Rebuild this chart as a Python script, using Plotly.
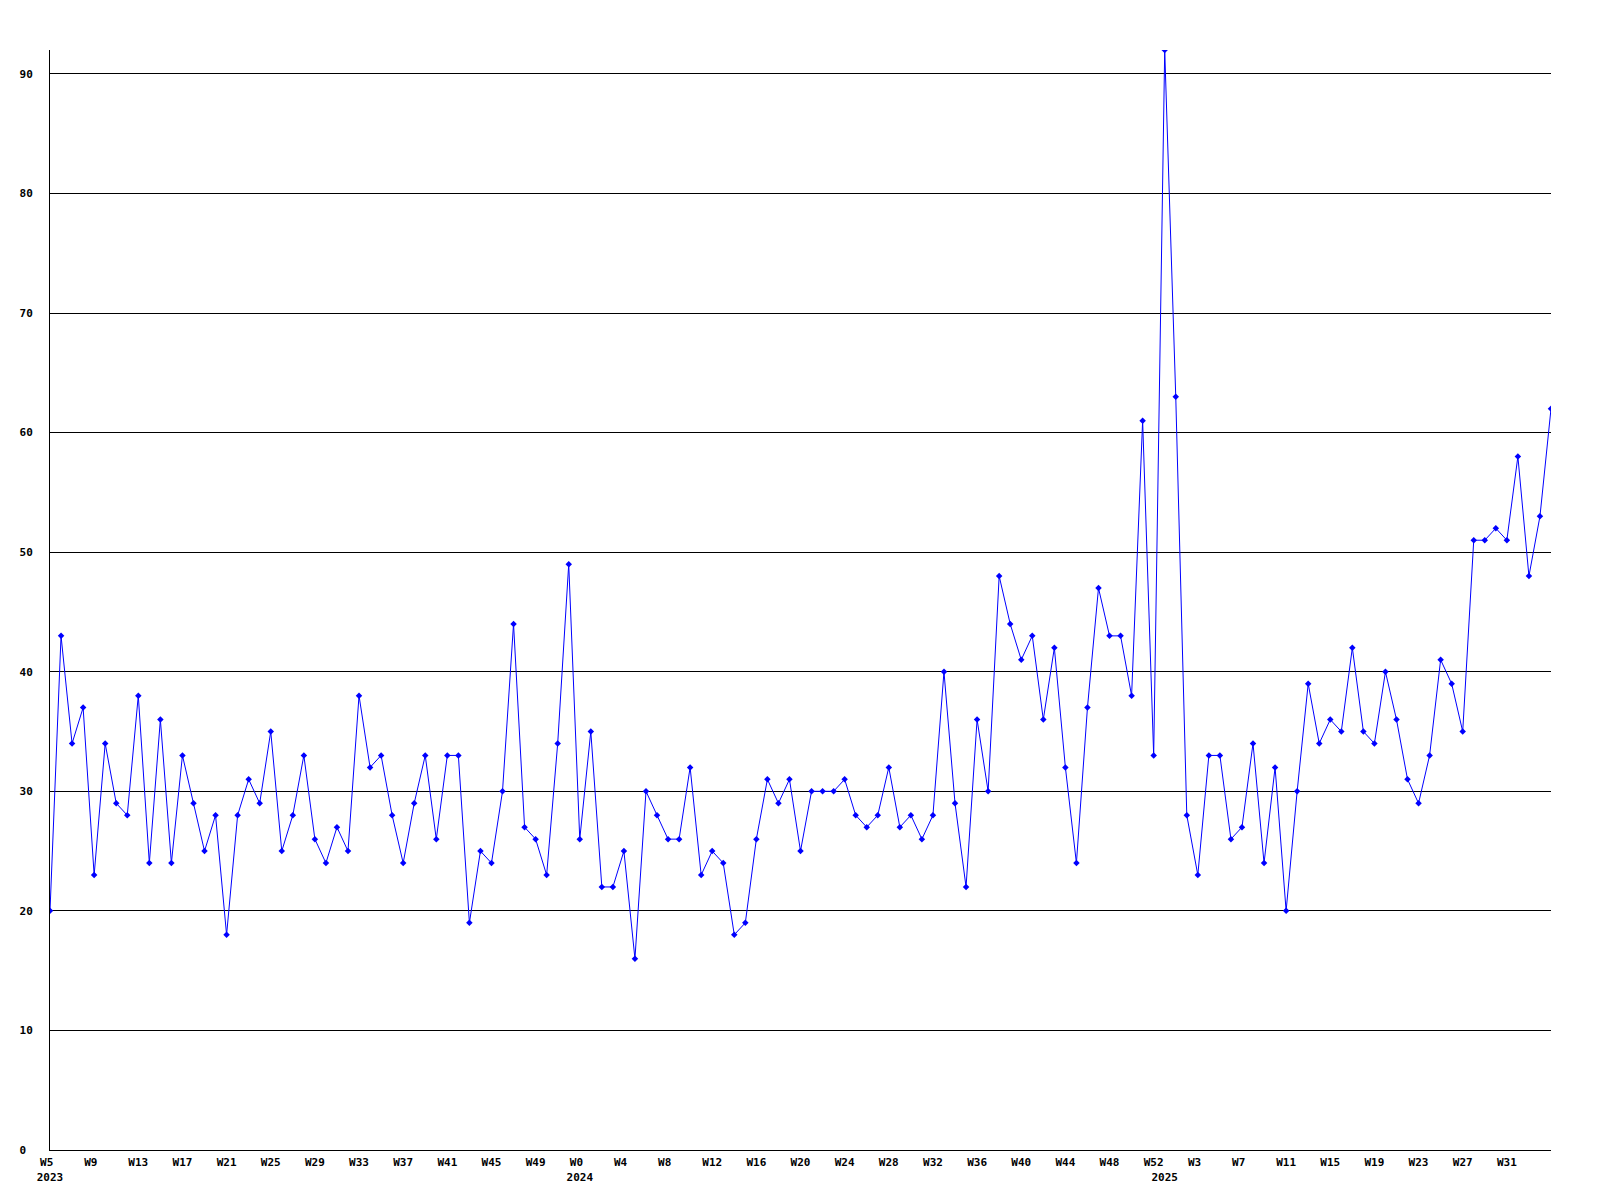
import plotly.graph_objects as go

# ---- data -------------------------------------------------------------
years = [2023, 2024, 2025]
weeks_2023 = list(range(5, 53))
weeks_2024 = list(range(0, 53))
weeks_2025 = list(range(0, 36))

values_2023 = [20, 43, 34, 37, 23, 34, 29, 28, 38, 24,
               36, 24, 33, 29, 25, 28, 18, 28, 31, 29,
               35, 25, 28, 33, 26, 24, 27, 25, 38, 32,
               33, 28, 24, 29, 33, 26, 33, 33, 19, 25,
               24, 30, 44, 27, 26, 23, 34, 49]
values_2024 = [26, 35, 22, 22, 25, 16, 30, 28, 26, 26,
               32, 23, 25, 24, 18, 19, 26, 31, 29, 31,
               25, 30, 30, 30, 31, 28, 27, 28, 32, 27,
               28, 26, 28, 40, 29, 22, 36, 30, 48, 44,
               41, 43, 36, 42, 32, 24, 37, 47, 43, 43,
               38, 61, 33]
values_2025 = [92, 63, 28, 23, 33, 33, 26, 27, 34, 24,
               32, 20, 30, 39, 34, 36, 35, 42, 35, 34,
               40, 36, 31, 29, 33, 41, 39, 35, 51, 51,
               52, 51, 58, 48, 53, 62]

tick_weeks_2023 = [5, 9, 13, 17, 21, 25, 29, 33, 37, 41, 45, 49]
tick_weeks_2024 = [0, 4, 8, 12, 16, 20, 24, 28, 32, 36, 40, 44, 48, 52]
tick_weeks_2025 = [3, 7, 11, 15, 19, 23, 27, 31]

y_ticks = [0, 10, 20, 30, 40, 50, 60, 70, 80, 90]
y_max = 92

# ---- build ------------------------------------------------------------
week_lists = [weeks_2023, weeks_2024, weeks_2025]
value_lists = [values_2023, values_2024, values_2025]
tick_lists = [tick_weeks_2023, tick_weeks_2024, tick_weeks_2025]

def cat(y, w):
    return f"{y}-W{w:02d}"

categories, values = [], []
for y, wl, vl in zip(years, week_lists, value_lists):
    for w, v in zip(wl, vl):
        categories.append(cat(y, w))
        values.append(v)

tickvals, ticktext = [], []
for y, tl in zip(years, tick_lists):
    for w in tl:
        tickvals.append(cat(y, w))
        lab = f"W{w}"
        if len(lab) < 3:
            lab = lab + "\u00a0"
        ticktext.append(lab)

year_pos = [categories.index(cat(y, wl[0])) for y, wl in zip(years, week_lists)]
year_text = [str(y) for y in years]

n = len(categories)
font = dict(family="DejaVu Sans Mono", size=11, color="black", weight="bold")

fig = go.Figure()
fig.add_trace(go.Scatter(
    x=categories, y=values, mode="lines+markers",
    line=dict(color="#0000FF", width=1),
    marker=dict(symbol="diamond", size=5, color="#0000FF"),
    hoverinfo="skip",
))
fig.add_trace(go.Scatter(x=[], y=[], xaxis="x2", yaxis="y", showlegend=False))

fig.update_layout(
    width=1600, height=1200,
    margin=dict(l=50, r=49, t=50, b=50, pad=0),
    plot_bgcolor="white", paper_bgcolor="white",
    showlegend=False,
    xaxis=dict(
        type="category", range=[0, n - 1],
        tickmode="array", tickvals=tickvals, ticktext=ticktext,
        showgrid=False, zeroline=False,
        showline=True, linecolor="black", linewidth=1,
        ticks="", tickfont=font, ticklabelstandoff=2,
    ),
    xaxis2=dict(
        overlaying="x", anchor="y", side="bottom",
        type="linear", range=[0, n - 1],
        tickmode="array", tickvals=year_pos, ticktext=year_text,
        showgrid=False, zeroline=False, showline=False,
        ticks="", tickfont=font, ticklabelstandoff=19,
    ),
    yaxis=dict(
        range=[0, y_max],
        tickmode="array", tickvals=y_ticks,
        ticktext=[(str(t) + "\u00a0") if len(str(t)) < 2 else str(t) for t in y_ticks],
        showgrid=True, gridcolor="black", gridwidth=1,
        zeroline=False,
        showline=True, linecolor="black", linewidth=1,
        ticks="", tickfont=font, ticklabelstandoff=14,
    ),
)

fig.write_html(
    "out.html",
    config={"displayModeBar": False},
    post_script="document.body.style.margin='0';document.body.style.overflow='hidden';",
)
